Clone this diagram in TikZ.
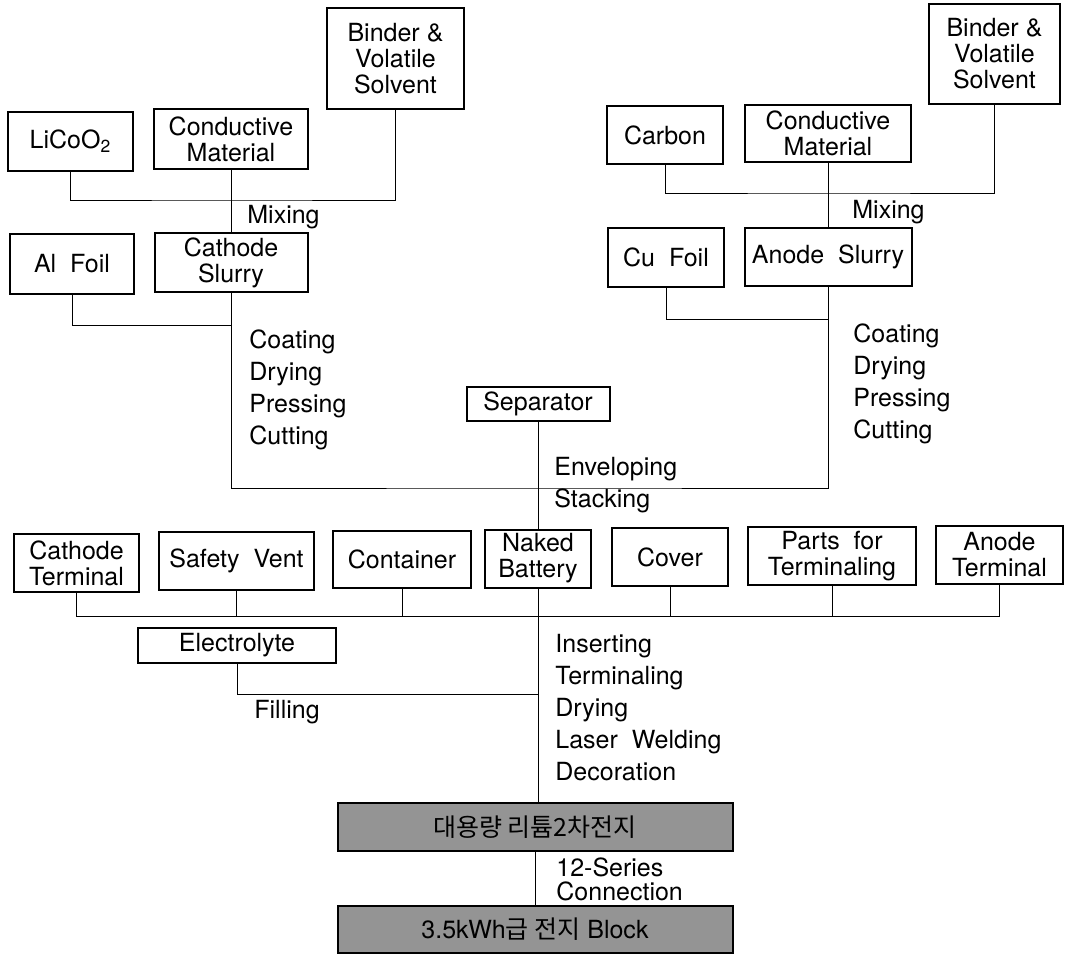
\documentclass[tikz,border=0pt]{standalone}
\usepackage{fontspec}
\setmainfont{TeX Gyre Heros}
\newfontfamily\kofont{Noto Sans CJK KR}
\usetikzlibrary{positioning,calc}

\begin{document}
\begin{tikzpicture}[
    x=0.5pt, y=-0.5pt,
    font=\fontsize{12.5}{13}\selectfont,
    wh/.style 2 args={minimum width={#1*0.5pt}, minimum height={#2*0.5pt}},
    box/.style={draw, rectangle, line width=1pt, inner sep=0pt, align=center},
    shadebox/.style={box, fill=black!42},
    proc/.style={anchor=west, inner sep=0pt, align=left, font=\fontsize{12.5}{16}\selectfont},
    link/.style={line width=0.5pt}
]

    \useasboundingbox (0,0) rectangle (1066,954);

    \node[box, wh={137}{101}] (binderL) at (395.5,58.5) {Binder \&\\Volatile\\Solvent};
    \node[box, wh={125}{59}]  (licoo)   at (70.5,141.5) {LiCoO\textsubscript{2}};
    \node[box, wh={154}{60}]  (condL)   at (231,139)    {Conductive\\Material};
    \node[box, wh={124}{60}]  (alfoil)  at (72,264)     {Al\ \ Foil};
    \node[box, wh={153}{59}]  (slurryL) at (231,262.5)  {Cathode\\Slurry};

    \node[box, wh={131}{100}] (binderR) at (994.5,54)   {Binder \&\\Volatile\\Solvent};
    \node[box, wh={116}{58}]  (carbon)  at (665,135)    {Carbon};
    \node[box, wh={166}{57}]  (condR)   at (828,133.5)  {Conductive\\Material};
    \node[box, wh={116}{59}]  (cufoil)  at (666,257.5)  {Cu\ \ Foil};
    \node[box, wh={167}{58}]  (slurryR) at (828,257)    {Anode\ \ Slurry};

    \node[box, wh={143}{34}]  (separator) at (538,404)  {Separator};

    \node[box, wh={125}{58}]  (cterm)     at (76.5,563)   {Cathode\\Terminal};
    \node[box, wh={155}{58}]  (vent)      at (236.5,561)  {Safety\ \ Vent};
    \node[box, wh={138}{57}]  (container) at (402,559.5)  {Container};
    \node[box, wh={106}{58}]  (naked)     at (538,558.5)  {Naked\\Battery};
    \node[box, wh={116}{58}]  (cover)     at (670,557)    {Cover};
    \node[box, wh={168}{58}]  (parts)     at (832,556)    {Parts\ \ for\\Terminaling};
    \node[box, wh={127}{58}]  (aterm)     at (999.5,555)  {Anode\\Terminal};

    \node[box, wh={198}{35}]  (electrolyte) at (237,645.5) {Electrolyte};

    \node[shadebox, wh={395}{48}] (cell)  at (535,827) {\kofont 대용량 리튬2차전지};
    \node[shadebox, wh={395}{47}] (block) at (535,929) {3.5kWh{\kofont 급 전지} Block};


    \node[proc] (mixLbl)   at (247,217) {Mixing};
    \node[proc] (mixRbl)   at (852,212) {Mixing};
    \node[proc] (coatL)    at (249,390) {Coating\\Drying\\Pressing\\Cutting};
    \node[proc] (coatR)    at (853,384) {Coating\\Drying\\Pressing\\Cutting};
    \node[proc] (stackLbl) at (554,485) {Enveloping\\Stacking};
    \node[proc] (fillLbl)  at (254,712) {Filling};
    \node[proc] (asmLbl)   at (555,708) {Inserting\\Terminaling\\Drying\\Laser\ \ Welding\\Decoration};
    \node[proc, font=\fontsize{12.5}{12}\selectfont] (serLbl) at (556,879) {12-Series\\Connection};


    \coordinate (mixL)   at (231,200);
    \coordinate (foilL)  at (231,325);
    \coordinate (mixR)   at (828,193);
    \coordinate (foilR)  at (828,319);
    \coordinate (stackJ) at (538,488);
    \coordinate (insJ)   at (538,616);
    \coordinate (fillJ)  at (538,694);

    \draw[link] (licoo.south) |- (mixL) -| (binderL.south);
    \draw[link] (condL.south) -- (slurryL.north);
    \draw[link] (alfoil.south) |- (foilL);

    \draw[link] (carbon.south) |- (mixR) -| (binderR.south);
    \draw[link] (condR.south) -- (slurryR.north);
    \draw[link] (cufoil.south) |- (foilR);

    \draw[link] (slurryL.south) |- (stackJ) -| (slurryR.south);
    \draw[link] (separator.south) -- (naked.north);

    \draw[link] (cterm.south) |- (insJ) -| (aterm.south);
    \draw[link] (vent.south) -- (vent.south |- insJ);
    \draw[link] (container.south) -- (container.south |- insJ);
    \draw[link] (cover.south) -- (cover.south |- insJ);
    \draw[link] (parts.south) -- (parts.south |- insJ);

    \draw[link] (electrolyte.south) |- (fillJ);
    \draw[link] (naked.south) -- (naked.south |- cell.north);
    \draw[link] (cell.south) -- (block.north);

\end{tikzpicture}
\end{document}
